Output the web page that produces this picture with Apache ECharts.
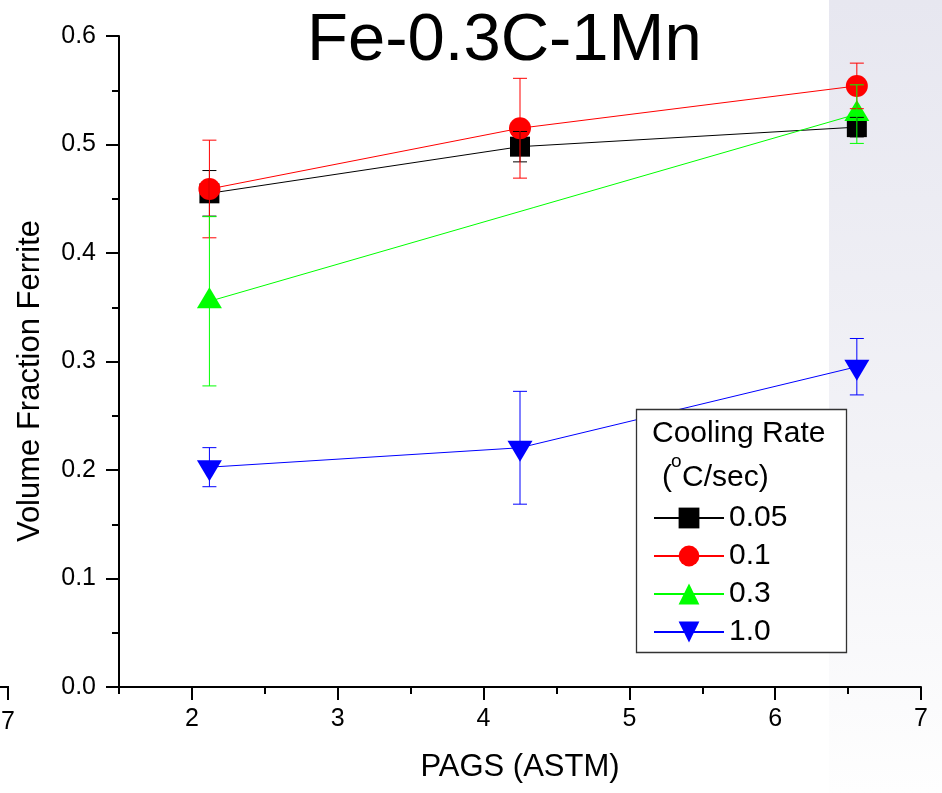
<!DOCTYPE html>
<html>
<head>
<meta charset="utf-8">
<script src="https://cdn.jsdelivr.net/npm/echarts@6/dist/echarts.min.js"></script>
<style>
  html, body { margin: 0; padding: 0; background: #fff; }
  #chart { width: 942px; height: 793px; }
</style>
</head>
<body>
<div id="chart"></div>
<script>
// Prior austenite grain size (ASTM number) for each measured condition
const pags = [2.12, 4.25, 6.56];

// Volume fraction of ferrite and its error, per cooling rate (°C/sec)
const rate005 = [0.455, 0.498, 0.516];
const err005  = [0.021, 0.014, 0.009];
const rate01  = [0.459, 0.515, 0.554];
const err01   = [0.045, 0.046, 0.021];
const rate03  = [0.3555, null, 0.528];
const err03   = [0.078, null, 0.027];
const rate10  = [0.2026, 0.2205, 0.2952];
const err10   = [0.018, 0.052, 0.026];

const seriesNames = ['0.05', '0.1', '0.3', '1.0'];
const xMajorTicks = [2, 3, 4, 5, 6, 7];
const xMinorTicks = [1.5, 2.5, 3.5, 4.5, 5.5, 6.5];

const FONT = 'Liberation Sans, Arial, Helvetica, sans-serif';

function pairs(ys) {
  return pags.map((x, i) => [x, ys[i]]);
}
function errTriples(ys, es) {
  const out = [];
  pags.forEach((x, i) => {
    if (ys[i] != null && es[i] != null) out.push([x, ys[i], es[i]]);
  });
  return out;
}

function errorBarSeries(ys, es, color) {
  return {
    type: 'custom',
    z: 5,
    silent: true,
    data: errTriples(ys, es),
    renderItem: function (params, api) {
      const x = api.value(0), y = api.value(1), e = api.value(2);
      const top = api.coord([x, y + e]);
      const bot = api.coord([x, y - e]);
      const half = 7;
      const style = { stroke: color, lineWidth: 1 };
      return {
        type: 'group',
        children: [
          { type: 'line', shape: { x1: top[0], y1: top[1], x2: bot[0], y2: bot[1] }, style: style },
          { type: 'line', shape: { x1: top[0] - half, y1: top[1], x2: top[0] + half, y2: top[1] }, style: style },
          { type: 'line', shape: { x1: bot[0] - half, y1: bot[1], x2: bot[0] + half, y2: bot[1] }, style: style }
        ]
      };
    }
  };
}

function lineSeries(name, ys, color, symbol, size, rotate, offset) {
  return {
    name: name,
    type: 'line',
    data: pairs(ys),
    connectNulls: true,
    symbol: symbol,
    symbolSize: size,
    symbolRotate: rotate,
    symbolOffset: offset,
    showAllSymbol: true,
    lineStyle: { color: color, width: 1 },
    itemStyle: { color: color, borderWidth: 0 },
    emphasis: { disabled: true },
    z: 3
  };
}

const chart = echarts.init(document.getElementById('chart'), null, { renderer: 'canvas' });

const axisLineStyle = { color: '#000', width: 2 };

chart.setOption({
  animation: false,
  backgroundColor: '#fff',
  textStyle: { fontFamily: FONT },
  title: {
    text: 'Fe-0.3C-1Mn',
    left: 307,
    top: 8,
    padding: 0,
    textStyle: { fontFamily: FONT, fontSize: 67, fontWeight: 'normal', color: '#000' }
  },
  grid: { left: 119, right: 21, top: 36, bottom: 106, outerBoundsMode: 'none' },
  xAxis: [
    {
      type: 'value',
      min: 1.5,
      max: 7,
      name: 'PAGS (ASTM)',
      nameLocation: 'middle',
      nameGap: 65,
      nameTextStyle: { fontFamily: FONT, fontSize: 31, color: '#000' },
      axisLine: { show: true, lineStyle: axisLineStyle },
      axisTick: { show: true, length: 13, lineStyle: axisLineStyle, customValues: xMajorTicks },
      axisLabel: { fontFamily: FONT, fontSize: 25, color: '#000', margin: 20, customValues: xMajorTicks },
      splitLine: { show: false }
    },
    {
      type: 'value',
      position: 'bottom',
      min: 1.5,
      max: 7,
      axisLine: { show: false },
      axisTick: { show: true, length: 7, lineStyle: axisLineStyle, customValues: xMinorTicks },
      axisLabel: { show: false },
      splitLine: { show: false }
    }
  ],
  yAxis: {
    type: 'value',
    min: 0,
    max: 0.6,
    interval: 0.1,
    axisLine: { show: true, lineStyle: axisLineStyle },
    axisTick: { show: true, length: 13, lineStyle: axisLineStyle },
    minorTick: { show: true, splitNumber: 2, length: 7, lineStyle: axisLineStyle },
    axisLabel: {
      fontFamily: FONT, fontSize: 25, color: '#000', margin: 23,
      formatter: v => v.toFixed(1)
    },
    splitLine: { show: false },
    minorSplitLine: { show: false }
  },
  legend: {
    data: seriesNames,
    orient: 'vertical',
    left: 653,
    top: 503,
    itemWidth: 70,
    itemHeight: 26,
    itemGap: 8,
    padding: 0,
    selectedMode: false,
    textStyle: { fontFamily: FONT, fontSize: 30, color: '#000' },
    z: 6
  },
  graphic: [
    // shaded panel at the right edge of the figure
    {
      type: 'rect', z: -10, silent: true,
      shape: { x: 829, y: 0, width: 113, height: 793 },
      style: {
        fill: new echarts.graphic.LinearGradient(0, 0, 0, 1, [
          { offset: 0, color: '#e7e7f0' },
          { offset: 0.6, color: '#f3f3f7' },
          { offset: 1, color: '#fefefe' }
        ])
      }
    },
    // y axis title
    {
      type: 'text', z: 1, silent: true,
      x: 30, y: 381, rotation: Math.PI / 2,
      style: {
        text: 'Volume Fraction Ferrite', fontFamily: FONT, fontSize: 31, fill: '#000',
        align: 'center', verticalAlign: 'middle'
      }
    },
    // edge of the neighbouring panel's x axis
    {
      type: 'line', z: 1, silent: true,
      shape: { x1: 0, y1: 687, x2: 9, y2: 687 },
      style: { stroke: '#000', lineWidth: 2 }
    },
    {
      type: 'line', z: 1, silent: true,
      shape: { x1: 8, y1: 686, x2: 8, y2: 700 },
      style: { stroke: '#000', lineWidth: 2 }
    },
    {
      type: 'text', z: 1, silent: true,
      x: 8, y: 722,
      style: { text: '7', fontFamily: FONT, fontSize: 25, fill: '#000', align: 'center', verticalAlign: 'middle' }
    },
    // legend frame and heading
    {
      type: 'rect', z: 4, silent: true,
      shape: { x: 636.5, y: 409.5, width: 210, height: 243 },
      style: { fill: '#fff', stroke: '#333', lineWidth: 1.3 }
    },
    {
      type: 'text', z: 6, silent: true,
      x: 652, y: 434,
      style: { text: 'Cooling Rate', fontFamily: FONT, fontSize: 30, fill: '#000', verticalAlign: 'middle' }
    },
    {
      type: 'text', z: 6, silent: true,
      x: 662, y: 478,
      style: { text: '(', fontFamily: FONT, fontSize: 30, fill: '#000', verticalAlign: 'middle' }
    },
    {
      type: 'text', z: 6, silent: true,
      x: 671, y: 462,
      style: { text: 'o', fontFamily: FONT, fontSize: 19, fill: '#000', verticalAlign: 'middle' }
    },
    {
      type: 'text', z: 6, silent: true,
      x: 682, y: 478,
      style: { text: 'C/sec)', fontFamily: FONT, fontSize: 30, fill: '#000', verticalAlign: 'middle' }
    }
  ],
  series: [
    lineSeries('0.05', rate005, '#000000', 'rect', 20, 0, [0, 0]),
    lineSeries('0.1', rate01, '#ff0000', 'circle', 22, 0, [0, 0]),
    lineSeries('0.3', rate03, '#00ff00', 'triangle', [25, 21], 0, [0, -3.5]),
    lineSeries('1.0', rate10, '#0000ff', 'triangle', [25, 21], 180, [0, 3.5]),
    errorBarSeries(rate005, err005, '#000000'),
    errorBarSeries(rate01, err01, '#ff0000'),
    errorBarSeries(rate03, err03, '#00ff00'),
    errorBarSeries(rate10, err10, '#0000ff')
  ]
});
</script>
</body>
</html>
